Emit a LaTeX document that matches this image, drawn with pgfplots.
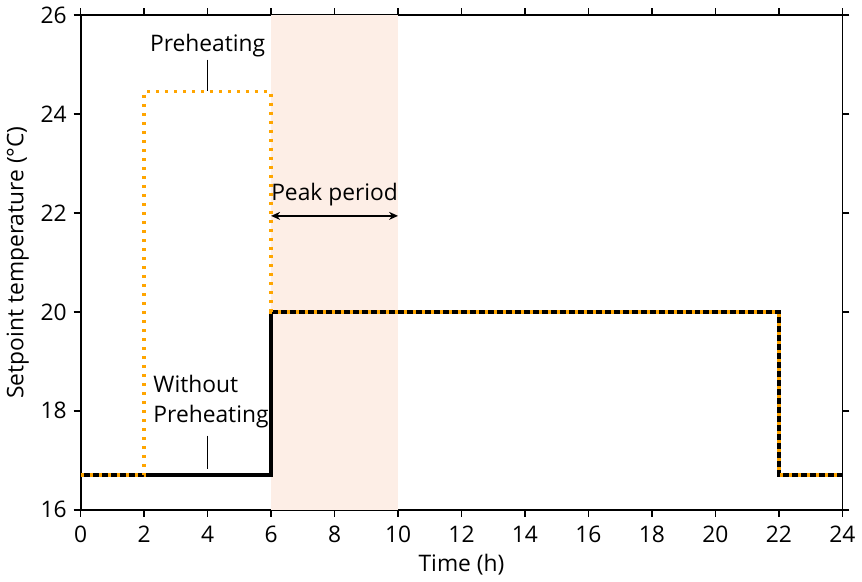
\documentclass[border=0pt]{standalone}
\usepackage{pgfplots}
\pgfplotsset{compat=1.18}
\usepackage{fontspec}
\setmainfont{Open Sans}
\usetikzlibrary{arrows.meta}
\definecolor{myorange}{RGB}{255,165,0}
\definecolor{peak}{RGB}{253,238,230}
\newcommand{\fs}{\fontsize{11.4}{15}\selectfont}
\begin{document}
\begin{tikzpicture}
\begin{axis}[
  scale only axis,
  width=381pt, height=247.5pt,
  xmin=0, xmax=24, ymin=16, ymax=26,
  xtick={0,2,...,24}, ytick={16,18,...,26},
  tick align=outside, major tick length=3.5pt,
  tick style={black, line width=0.75pt},
  axis line style={line width=0.8pt},
  tick label style={font=\fs},
  xticklabel style={yshift=-1pt},
  label style={font=\fs},
  /pgf/number format/assume math mode=true,
  xlabel={Time (h)}, ylabel={Setpoint temperature (°C)},
  xlabel style={yshift=1pt}, ylabel style={yshift=-1pt},
  clip=false,
]
\addplot[draw=none, fill=peak, area legend] coordinates {(6,16) (10,16) (10,26) (6,26)} -- cycle;
\addplot[black, line width=1.7pt, line join=miter] coordinates {(0,16.7) (6,16.7) (6,20) (22,20) (22,16.7) (24,16.7)};
\addplot[myorange, line width=1.7pt, dash pattern=on 1.5pt off 3pt] coordinates {(0,16.7) (2,16.7) (2,24.45) (6,24.45) (6,20) (22,20) (22,16.7) (24,16.7)};
\draw[line width=0.5pt] (axis cs:4,25.1) -- (axis cs:4,24.47);
\node[font=\fs] at (axis cs:4,25.38) {Preheating};
\draw[line width=0.5pt] (axis cs:4,17.5) -- (axis cs:4,16.83);
\node[font=\fs, anchor=west, align=left, inner sep=0pt] at (axis cs:2.28,18.18) {Without\\Preheating};
\draw[{Stealth[length=4.5pt,width=4pt]}-{Stealth[length=4.5pt,width=4pt]}, line width=0.75pt] (axis cs:6,21.94) -- (axis cs:10,21.94);
\node[font=\fs] at (axis cs:8,22.38) {Peak period};
\end{axis}
\end{tikzpicture}
\end{document}
